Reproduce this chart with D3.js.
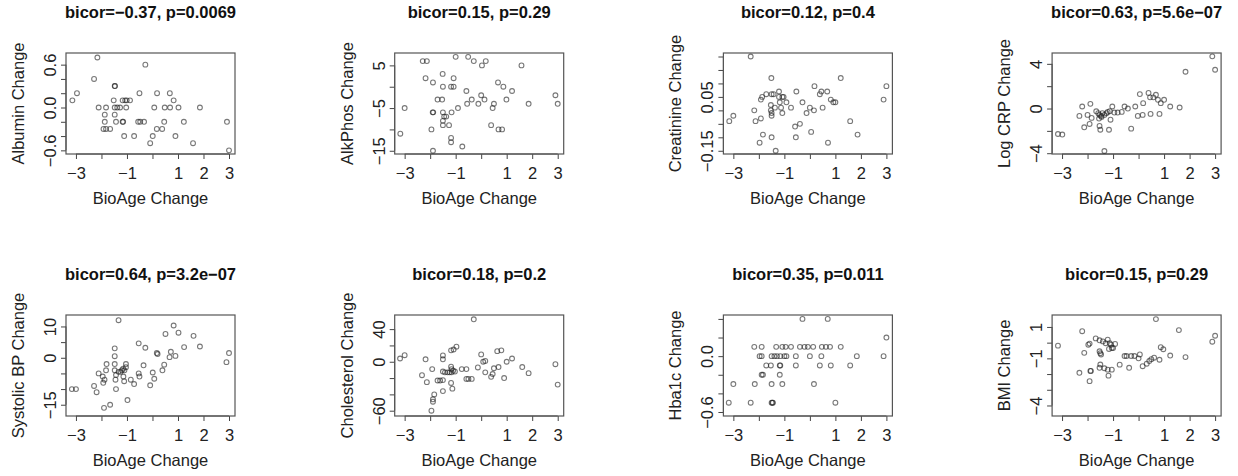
<!DOCTYPE html>
<html lang="en">
<head>
  <meta charset="UTF-8" />
  <title>BioAge Change vs clinical markers</title>
  <script src="https://d3js.org/d3.v7.min.js"></script>
  <style>
    body {
      margin: 0;
      background: #fff;
    }
    svg {
      display: block;
      font-family: "Liberation Sans", Arial, sans-serif;
    }
  </style>
</head>
<body>
  <svg id="chart" width="1238" height="476"></svg>

  <script>
    // panel titles and axis labels
    const titles = [
      'bicor=\u22120.37, p=0.0069', 'bicor=0.15, p=0.29', 'bicor=0.12, p=0.4', 'bicor=0.63, p=5.6e\u221207',
      'bicor=0.64, p=3.2e\u221207', 'bicor=0.18, p=0.2', 'bicor=0.35, p=0.011', 'bicor=0.15, p=0.29'
    ];
    const yTitles = [
      'Albumin Change', 'AlkPhos Change', 'Creatinine Change', 'Log CRP Change',
      'Systolic BP Change', 'Cholesterol Change', 'Hba1c Change', 'BMI Change'
    ];
    const xTitle = 'BioAge Change';

    // x axis shared by all panels
    const xDomain = [-3.39, 3.235];
    const xTicks = [-3, -2, -1, 0, 1, 2, 3];
    const xTickLabels = ['\u22123', '', '\u22121', '', '1', '2', '3'];

    // y axis per panel
    const yDomains = [
      [-0.651, 0.763], [-15.76, 7.9], [-0.162, 0.213], [-4.07, 4.97],
      [-18.6, 13.66], [-66.5, 57.3], [-0.643, 0.442], [-4.67, 1.76]
    ];
    const yTicks = [
      [-0.6, -0.4, -0.2, 0, 0.2, 0.4, 0.6],
      [-15, -10, -5, 0, 5],
      [-0.15, -0.1, -0.05, 0, 0.05, 0.1, 0.15, 0.2],
      [-4, -2, 0, 2, 4],
      [-15, -10, -5, 0, 5, 10],
      [-60, -40, -20, 0, 20, 40],
      [-0.6, -0.4, -0.2, 0, 0.2, 0.4],
      [-4, -3, -2, -1, 0, 1]
    ];
    const yTickLabels = [
      ['\u22120.6', '', '', '0.0', '', '', '0.6'],
      ['\u221215', '', '\u22125', '', '5'],
      ['\u22120.15', '', '', '', '0.05', '', '', ''],
      ['\u22124', '', '0', '', '4'],
      ['\u221215', '', '', '0', '', '10'],
      ['\u221260', '', '', '0', '', '40'],
      ['\u22120.6', '', '', '0.0', '', ''],
      ['\u22124', '', '', '\u22121', '', '1']
    ];

    // [BioAge change, marker change]
    const albumin = [
      [-3.14, 0.1], [-2.96, 0.2], [-2.16, 0.7], [-2.29, 0.4], [-2.11, 0.0], [-1.82, 0.0], [-1.87, -0.1],
      [-1.87, -0.2], [-1.92, -0.3], [-1.82, -0.3], [-1.66, -0.3], [-1.48, 0.3], [-1.47, 0.3], [-1.52, 0.1],
      [-1.48, 0.0], [-1.38, 0.0], [-1.27, 0.0], [-1.48, -0.1], [-1.43, -0.2], [-1.17, -0.2], [-1.15, -0.2],
      [-1.17, 0.1], [-1.07, 0.1], [-1.01, 0.1], [-0.88, 0.1], [-1.03, 0.0], [-1.11, -0.4], [-0.72, -0.4],
      [-0.51, 0.2], [-0.56, -0.2], [-0.48, -0.2], [-0.33, -0.2], [-0.28, 0.6], [-0.09, -0.5], [0.01, -0.4],
      [0.07, 0.0], [0.18, 0.2], [0.17, -0.3], [0.38, -0.3], [0.46, -0.2], [0.48, 0.0], [0.69, 0.0],
      [0.68, 0.2], [0.83, 0.1], [0.9, -0.4], [1.02, 0.0], [1.23, -0.2], [1.59, -0.5], [1.86, 0.0],
      [2.92, -0.2], [3.0, -0.6]
    ];
    const alkPhos = [
      [-3.17, -11], [-3.0, -5], [-2.29, 6], [-2.13, 6], [-2.18, 2], [-1.89, 1], [-1.95, -10], [-1.89, -15],
      [-1.71, -3], [-1.53, -3], [-1.51, 3], [-1.5, 0], [-1.9, -6], [-1.88, -6], [-1.5, -6], [-1.45, -7],
      [-1.37, -7], [-1.5, -8], [-1.5, -9], [-1.26, -9], [-1.16, -6], [-1.18, -12], [-1.18, -13], [-1.18, 0],
      [-1.08, 0], [-1.08, 2], [-1.0, 7], [-0.91, -5], [-0.74, -14], [-0.58, -1], [-0.55, -4], [-0.51, 7],
      [-0.37, -3], [-0.29, 6], [-0.11, -4], [0, -2], [0.03, 5], [0.13, -3], [0.18, 6], [0.39, -9],
      [0.45, -5], [0.5, -4], [0.66, 1], [0.87, 0], [0.68, -10], [0.82, -10], [0.99, -3], [1.21, -1],
      [1.58, 5], [1.86, -4], [2.91, -2], [3.0, -4]
    ];
    const creatinine = [
      [-2.32, 0.2], [-3.16, -0.04], [-3.0, -0.02], [-2.18, 0.0], [-2.13, -0.04], [-1.92, -0.03], [-1.97, -0.12],
      [-1.84, -0.09], [-1.92, 0.04], [-1.87, 0.05], [-1.71, 0.06], [-1.51, 0.12], [-1.5, 0.06], [-1.42, 0.06],
      [-1.53, 0.02], [-1.53, 0.0], [-1.5, -0.01], [-1.5, -0.02], [-1.37, 0.01], [-1.5, -0.1], [-1.34, -0.15],
      [-1.21, 0.07], [-1.21, 0.05], [-1.13, 0.01], [-1.18, 0.03], [-1.08, -0.01], [-1.08, 0.05], [-1.03, 0.05],
      [-0.92, 0.03], [-0.74, 0.01], [-0.53, 0.07], [-0.58, -0.06], [-0.39, -0.05], [-0.55, -0.1], [-0.29, 0.03],
      [-0.13, -0.01], [0.0, 0.01], [0.05, -0.08], [0.16, 0.0], [0.18, 0.09], [0.39, 0.06], [0.45, 0.07],
      [0.68, 0.07], [0.5, 0.01], [0.71, -0.12], [0.82, 0.04], [0.92, 0.03], [1.0, 0.03], [1.21, 0.12],
      [1.58, -0.04], [1.87, -0.09], [2.89, 0.04], [3.0, 0.09]
    ];
    const logCrp = [
      [-3.16, -2.28], [-2.99, -2.33], [-2.32, -0.66], [-2.21, 0.18], [-2.13, -1.68], [-1.89, 0.42], [-2.0, -0.57],
      [-1.92, -1.38], [-1.84, -0.84], [-1.66, -0.25], [-1.58, -0.42], [-1.53, -0.57], [-1.47, -0.66],
      [-1.55, -0.9], [-1.45, -0.75], [-1.53, -1.56], [-1.5, -1.9], [-1.42, -0.42], [-1.34, -0.57],
      [-1.26, -0.42], [-1.21, -0.3], [-1.13, -0.24], [-1.34, -3.8], [-1.16, -1.9], [-1.1, -1.0], [-1.03, 0.18],
      [-0.95, -0.36], [-0.82, -0.36], [-0.66, -0.3], [-0.55, 0.18], [-0.42, 0.0], [-0.29, -1.8], [-0.13, 0.18],
      [-0.03, -0.66], [0.16, -0.57], [0.18, 0.48], [0.05, 1.29], [0.39, 1.4], [0.45, 1.0], [0.58, 1.0],
      [0.68, 1.23], [0.76, 0.78], [0.47, -0.48], [0.82, -0.48], [0.87, 0.48], [1.0, 0.78], [1.24, 0.18],
      [1.61, 0.09], [1.84, 3.29], [2.89, 4.67], [3.0, 3.47]
    ];
    const systolicBp = [
      [-3.16, -10], [-3.0, -10], [-2.29, -9], [-2.19, -11], [-2.11, -5], [-1.95, -6], [-1.93, -8], [-1.88, -7],
      [-1.9, -16], [-1.82, -4], [-1.8, -2], [-1.66, -15], [-1.48, 3], [-1.48, 0.5], [-1.48, -2], [-1.48, -4],
      [-1.45, -7], [-1.43, -5.5], [-1.43, -10], [-1.33, 12], [-1.33, -4.5], [-1.25, -4.5], [-1.2, -4],
      [-1.15, -3.5], [-1.1, -4], [-1.14, -6], [-1.04, -2], [-1.04, -3], [-1.11, -7.5], [-0.98, -13.5],
      [-0.85, -7], [-0.72, -8.4], [-0.54, 4.6], [-0.54, -5], [-0.51, -6], [-0.35, -2.4], [-0.28, 3.2],
      [-0.09, -8.8], [0.01, -4.7], [0.07, -6.7], [0.17, 1.5], [0.2, 1.2], [0.39, -4], [0.46, -2.2], [0.51, 7.6],
      [0.67, 0.2], [0.72, 1.9], [0.83, 10.3], [0.9, 0.6], [1.02, 8], [1.24, 3.4], [1.61, 7], [1.86, 3.6],
      [2.9, -1.4], [3.0, 1.5]
    ];
    const cholesterol = [
      [-3.18, 4], [-3.0, 8], [-2.32, -16.5], [-2.18, 3], [-2.13, -25], [-1.92, -9], [-1.95, -60], [-1.89, -49],
      [-1.89, -46], [-1.84, -40], [-1.71, -23], [-1.61, -23], [-1.5, -36], [-1.5, -22.5], [-1.5, 7.7], [-1.5, 3],
      [-1.5, -12], [-1.42, -13], [-1.32, -13], [-1.24, -13], [-1.16, -13], [-1.1, -11], [-1.03, -12],
      [-1.18, -26], [-1.13, -33], [-1.18, -6], [-1.16, -9], [-1.18, 14], [-1.08, 15], [-0.97, 18.5],
      [-0.76, -9], [-0.58, -9], [-0.58, -21], [-0.5, -21], [-0.37, -21], [-0.29, 52], [-0.13, -7], [0, 9],
      [0.08, 0], [0.16, 1], [0.16, -13], [0.39, -18.5], [0.45, -15], [0.5, -8], [0.63, 13], [0.79, 14],
      [0.68, -6.5], [0.9, -20], [1.0, 0], [1.21, 4], [1.61, -6.5], [1.86, -14], [2.91, -3], [3.0, -28]
    ];
    const hba1c = [
      [-0.29, 0.4], [0.7, 0.4], [3.0, 0.2],
      [-2.18, 0.1], [-1.89, 0.1], [-1.32, 0.1], [-1.08, 0.1], [-0.95, 0.1], [-0.74, 0.1], [-0.39, 0.1],
      [-0.21, 0.1], [-0.08, 0.1], [0.13, 0.1], [0.47, 0.1], [0.63, 0.1], [0.79, 0.1], [1.21, 0.1],
      [-1.97, 0.0], [-1.89, 0.0], [-1.5, 0.0], [-1.39, 0.0], [-1.29, 0.0], [-1.16, 0.0], [-1.0, 0.0],
      [-0.92, 0.0], [-0.55, 0.0], [0, 0.0], [0.45, 0.0], [1.84, 0.0], [2.89, 0.0],
      [-1.71, -0.1], [-1.53, -0.1], [-1.18, -0.1], [-1.16, -0.1], [-0.55, -0.1], [0.39, -0.1], [0.82, -0.1],
      [1.58, -0.1],
      [-1.89, -0.2], [-1.84, -0.2], [-1.18, -0.2],
      [-3.0, -0.3], [-2.16, -0.3], [-1.5, -0.3], [-1.08, -0.3], [0.16, -0.3],
      [-3.18, -0.5], [-2.32, -0.5], [-1.5, -0.5], [-1.47, -0.5], [-1.45, -0.5], [1.0, -0.5]
    ];
    const bmi = [
      [-3.16, -0.19], [-2.32, -1.92], [-2.21, 0.73], [-2.13, -0.65], [-1.92, -0.06], [-1.97, -0.13],
      [-1.89, -1.8], [-1.87, -1.8], [-1.92, -2.45], [-1.68, 0.27], [-1.53, 0.15], [-1.4, 0.08], [-1.29, -0.04],
      [-1.21, 0.19], [-1.13, -0.04], [-1.08, -0.13], [-1.0, -0.34], [-0.92, -0.08], [-1.53, -0.55],
      [-1.5, -0.67], [-1.47, -0.75], [-1.5, -1.39], [-1.53, -1.6], [-1.34, -1.63], [-1.21, -1.72],
      [-1.05, -1.72], [-1.18, -2.1], [-1.16, -0.4], [-1.05, -0.34], [-0.74, -1.4], [-0.55, -0.85],
      [-0.47, -0.85], [-0.29, -0.85], [-0.16, -0.85], [0.05, -0.75], [-0.37, -1.6], [0, -1.0], [0.16, -1.5],
      [0.32, -1.34], [0.42, -1.17], [0.5, -1.05], [0.61, -0.96], [0.68, 1.5], [0.82, -1.09], [0.87, -0.29],
      [0.97, -0.42], [1.24, -0.82], [1.58, 0.8], [1.84, -0.92], [2.89, 0.06], [3.0, 0.44]
    ];
    const panelData = [albumin, alkPhos, creatinine, logCrp, systolicBp, cholesterol, hba1c, bmi];

    const svg = d3.select('#chart');
    const boxW = 169, boxH = 101;
    const fontSize = 16.5;

    panelData.forEach((points, i) => {
      const col = i % 4, row = Math.floor(i / 4);
      const left = 66 + col * 328.7;
      const top = 53 + row * 262;

      const x = d3.scaleLinear().domain(xDomain).range([0, boxW]);
      const y = d3.scaleLinear().domain(yDomains[i]).range([boxH, 0]);

      const g = svg.append('g').attr('transform', `translate(${left},${top})`);

      // x axis
      const xAxis = g.append('g')
        .attr('transform', `translate(0,${boxH})`)
        .call(d3.axisBottom(x).tickValues(xTicks).tickSize(5).tickSizeOuter(0)
          .tickFormat((d, j) => xTickLabels[j]));
      xAxis.select('.domain')
        .attr('d', `M${x(xTicks[0])},0H${x(xTicks[xTicks.length - 1])}`);
      xAxis.selectAll('.tick line').attr('stroke', '#444');
      xAxis.selectAll('.tick text')
        .attr('y', 25).attr('dy', 0)
        .attr('font-size', fontSize).attr('font-family', null).attr('fill', '#222');

      // y axis with R-style rotated labels
      const yAxis = g.append('g')
        .call(d3.axisLeft(y).tickValues(yTicks[i]).tickSize(5).tickSizeOuter(0)
          .tickFormat((d, j) => yTickLabels[i][j]));
      yAxis.select('.domain')
        .attr('d', `M0,${y(yTicks[i][0])}V${y(yTicks[i][yTicks[i].length - 1])}`);
      yAxis.selectAll('.tick line').attr('stroke', '#444');
      yAxis.selectAll('.tick text')
        .attr('transform', 'rotate(-90)')
        .attr('x', 0).attr('y', -10).attr('dy', 0)
        .attr('text-anchor', 'middle')
        .attr('font-size', fontSize).attr('font-family', null).attr('fill', '#222');
      g.selectAll('.domain').attr('stroke', '#444');

      // plot box
      g.append('rect')
        .attr('width', boxW).attr('height', boxH)
        .attr('fill', 'none').attr('stroke', '#555').attr('stroke-width', 1.2);

      // points
      g.append('g')
        .selectAll('circle')
        .data(points)
        .join('circle')
        .attr('cx', d => x(d[0]))
        .attr('cy', d => y(d[1]))
        .attr('r', 2.4)
        .attr('fill', 'none')
        .attr('stroke', 'rgba(30,30,30,0.6)')
        .attr('stroke-width', 1.1);

      // title and axis titles
      g.append('text')
        .attr('x', boxW / 2).attr('y', -35)
        .attr('text-anchor', 'middle')
        .attr('font-size', fontSize).attr('font-weight', 'bold').attr('fill', '#111')
        .text(titles[i]);

      g.append('text')
        .attr('x', boxW / 2).attr('y', boxH + 50)
        .attr('text-anchor', 'middle')
        .attr('font-size', fontSize).attr('fill', '#222')
        .text(xTitle);

      g.append('text')
        .attr('transform', `translate(-42,${boxH / 2}) rotate(-90)`)
        .attr('text-anchor', 'middle')
        .attr('font-size', fontSize).attr('fill', '#222')
        .text(yTitles[i]);
    });
  </script>
</body>
</html>
